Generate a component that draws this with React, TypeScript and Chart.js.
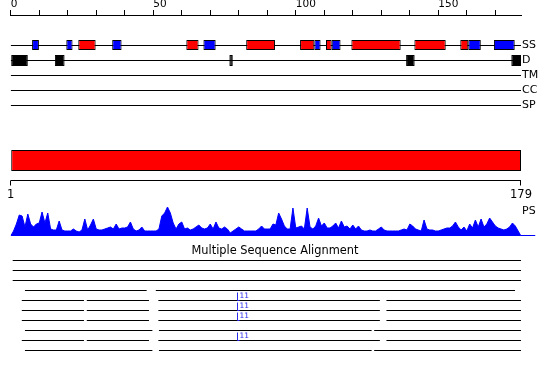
import React, { useEffect, useRef } from 'react';
import { Chart, registerables } from 'chart.js';

Chart.register(...registerables);

// ---------- data ----------
const SEQ_END = 179;
const AXIS_TICKS = [0, 10, 20, 30, 40, 50, 60, 70, 80, 90, 100, 110, 120, 130, 140, 150, 160, 170];
const TRACK_NAMES = ['SS', 'D', 'TM', 'CC', 'SP', 'PS'];

const SS_HELIX: [number, number][] = [
  [23.7, 29.8], [61.6, 65.9], [82.6, 92.7], [101.5, 106.5], [110.6, 112.6],
  [119.5, 136.8], [141.6, 152.6], [157.7, 160.5],
];
const SS_STRAND: [number, number][] = [
  [7.5, 9.9], [19.5, 21.7], [35.6, 38.9], [67.6, 71.9], [106.5, 108.7],
  [112.6, 115.7], [160.5, 164.9], [169.5, 176.8],
];
const DISORDER: [number, number][] = [
  [0, 6.0], [15.5, 18.9], [76.7, 77.9], [138.7, 141.7], [175.6, 179],
];
const DOMAINS: [number, number][] = [[0, 179]];

const RULER_TICK_POS = [0, 179];
const RULER_TICK_LABELS = ['1', '179'];

// PS profile, one value per residue position (0..179)
const PS = [
  0, 5, 12, 21, 20, 9, 22, 12, 9, 12,
  13, 24, 13, 23, 7, 6, 6, 15, 6, 5,
  5, 5, 7, 5, 4, 6, 17, 6, 11, 17,
  7, 6, 6, 7, 8, 9, 7, 12, 7, 8,
  8, 9, 14, 7, 5, 6, 9, 5, 5, 5,
  5, 5, 7, 20, 23, 29, 23, 13, 7, 12,
  14, 7, 8, 6, 7, 9, 11, 8, 7, 8,
  12, 7, 14, 8, 7, 9, 7, 3, 5, 7,
  9, 7, 5, 5, 5, 5, 5, 7, 10, 7,
  7, 7, 12, 11, 23, 17, 10, 7, 7, 28,
  8, 9, 10, 7, 28, 9, 7, 10, 18, 10,
  13, 8, 8, 10, 13, 8, 15, 9, 10, 7,
  11, 7, 10, 6, 5, 5, 6, 5, 5, 7,
  9, 6, 5, 5, 5, 5, 5, 6, 7, 6,
  12, 10, 7, 6, 5, 16, 7, 6, 6, 5,
  5, 6, 7, 8, 8, 10, 14, 9, 6, 9,
  5, 12, 8, 16, 9, 17, 9, 12, 18, 14,
  10, 8, 7, 6, 7, 9, 13, 10, 5, 0,
];
const PS_TAIL: [number, number] = [179, 184];

const MSA_TITLE = 'Multiple Sequence Alignment';
const ALIGN_ROWS: [number, number][][] = [
  [[0.7, 179]],
  [[0.7, 179]],
  [[0.7, 179]],
  [[5, 47.7], [50.9, 176.9]],
  [[3.9, 25.7], [26.7, 48.5], [51.8, 129.5], [131.8, 179]],
  [[3.9, 25.7], [26.7, 48.5], [51.8, 129.5], [131.8, 179]],
  [[3.9, 25.7], [26.7, 48.5], [51.8, 129.5], [131.8, 179]],
  [[5, 49.7], [52, 126.6], [127.5, 179]],
  [[3.9, 25.7], [26.7, 48.5], [51.8, 129.5], [131.8, 179]],
  [[5, 49.7], [52, 126.6], [127.5, 179]],
];
const INSERT_ROWS = [4, 5, 6, 8];
const INSERT_POS = [79.5, 79.5, 79.5, 79.5];
const INSERT_LABELS = ['11', '11', '11', '11'];

// ---------- layout (vertical positions, in pixel-like units of the y scale) ----------
const Y_TOP = 15;
const Y_BOTTOM = 365;
const TRACK_Y = [45.5, 60.5, 75.5, 90.5, 105.5, 211];
const SS_BAR_Y = 45;
const D_BAR_Y = 60.5;
const DOMAIN_Y = 160.5;
const RULER_Y = 180.5;
const PS_BASE = 236;
const TITLE_Y = 251;
const ALIGN_Y0 = 260.5;
const ALIGN_STEP = 10;
const FONT = 'DejaVu Sans';

function segLine(segs: [number, number][], y: number) {
  const out: any[] = [];
  segs.forEach(([a, b]) => {
    out.push({ x: a, y }, { x: b, y }, { x: b, y: null });
  });
  return out;
}

const extras = {
  id: 'extras',
  afterDatasetsDraw(chart: any) {
    const { ctx } = chart;
    const xs = chart.scales.x;
    const ys = chart.scales.y;
    ctx.save();
    // ruler
    const ry = ys.getPixelForValue(RULER_Y);
    const rx0 = xs.getPixelForValue(RULER_TICK_POS[0]);
    const rx1 = xs.getPixelForValue(RULER_TICK_POS[RULER_TICK_POS.length - 1]);
    ctx.strokeStyle = '#000';
    ctx.lineWidth = 1;
    ctx.beginPath();
    ctx.moveTo(rx0, ry);
    ctx.lineTo(rx1, ry);
    RULER_TICK_POS.forEach((p) => {
      const px = Math.round(xs.getPixelForValue(p)) - 0.5;
      ctx.moveTo(px, ry);
      ctx.lineTo(px, ry + 5);
    });
    ctx.stroke();
    ctx.fillStyle = '#000';
    ctx.font = `11.5px "${FONT}"`;
    ctx.textAlign = 'center';
    ctx.textBaseline = 'top';
    RULER_TICK_POS.forEach((p, i) => {
      ctx.fillText(RULER_TICK_LABELS[i], xs.getPixelForValue(p), ry + 8.5);
    });
    // title
    ctx.font = `11.4px "${FONT}"`;
    ctx.textBaseline = 'middle';
    ctx.fillText(MSA_TITLE, chart.width / 2, ys.getPixelForValue(TITLE_Y));
    // inserts
    ctx.strokeStyle = '#2a2aee';
    ctx.fillStyle = '#2a2aee';
    ctx.font = `7.5px "${FONT}"`;
    ctx.textAlign = 'left';
    ctx.textBaseline = 'alphabetic';
    INSERT_ROWS.forEach((r, i) => {
      const y = ys.getPixelForValue(ALIGN_Y0 + r * ALIGN_STEP);
      const x = Math.round(xs.getPixelForValue(INSERT_POS[i])) + 0.5;
      ctx.beginPath();
      ctx.moveTo(x, y - 8);
      ctx.lineTo(x, y);
      ctx.lineTo(x + 2, y);
      ctx.stroke();
      ctx.fillText(INSERT_LABELS[i], x + 2, y - 2.5);
    });
    ctx.restore();
  },
};

export default function App() {
  const ref = useRef<HTMLCanvasElement>(null);
  useEffect(() => {
    const canvas = ref.current!;
    const trackLines: any[] = [];
    TRACK_Y.slice(0, 5).forEach((y) => {
      trackLines.push(...segLine([[0, SEQ_END]], y));
    });
    const alignLines: any[] = [];
    ALIGN_ROWS.forEach((segs, r) => {
      alignLines.push(...segLine(segs, ALIGN_Y0 + r * ALIGN_STEP));
    });
    const barBase = {
      type: 'bar' as const,
      indexAxis: 'y' as const,
      grouped: false,
      borderWidth: 1,
      borderColor: '#000',
      borderSkipped: false,
      inflateAmount: 0,
      order: 0,
    };
    const chart = new Chart(canvas, {
      type: 'line',
      data: {
        datasets: [
          { ...barBase, data: SS_HELIX.map((s) => ({ x: s, y: SS_BAR_Y })), backgroundColor: '#ff0000', barThickness: 10 } as any,
          { ...barBase, data: SS_STRAND.map((s) => ({ x: s, y: SS_BAR_Y })), backgroundColor: '#0000ff', barThickness: 10 } as any,
          { ...barBase, data: DISORDER.map((s) => ({ x: s, y: D_BAR_Y })), backgroundColor: '#000000', barThickness: 11 } as any,
          { ...barBase, data: DOMAINS.map((s) => ({ x: s, y: DOMAIN_Y })), backgroundColor: '#ff0000', barThickness: 21 } as any,
          {
            type: 'line', data: trackLines, borderColor: '#000', borderWidth: 1,
            pointRadius: 0, spanGaps: false, fill: false, order: 2,
          },
          {
            type: 'line', data: alignLines, borderColor: '#000', borderWidth: 1,
            pointRadius: 0, spanGaps: false, fill: false, order: 2,
          },
          {
            type: 'line', data: PS.map((v, i) => ({ x: i, y: PS_BASE - v })),
            borderColor: '#0000ff', backgroundColor: '#0000ff', borderWidth: 1,
            pointRadius: 0, fill: { value: PS_BASE }, order: 1, tension: 0,
          },
          {
            type: 'line', data: PS_TAIL.map((x) => ({ x, y: PS_BASE - 0.5 })),
            borderColor: '#0000ff', borderWidth: 1, pointRadius: 0, fill: false,
            order: 1, clip: false,
          },
        ],
      },
      options: {
        animation: false,
        responsive: false,
        devicePixelRatio: 1,
        events: [],
        layout: { padding: { left: 10.7, right: 0, top: 0, bottom: 380 - Y_BOTTOM } },
        plugins: { legend: { display: false }, tooltip: { enabled: false } },
        scales: {
          x: {
            type: 'linear',
            position: 'top',
            min: 0,
            max: SEQ_END,
            offset: false,
            afterBuildTicks: (s: any) => { s.ticks = AXIS_TICKS.map((v) => ({ value: v })); },
            afterFit: (s: any) => { s.height = Y_TOP; },
            ticks: {
              autoSkip: false,
              maxRotation: 0,
              align: 'start',
              padding: -1,
              color: '#000',
              font: { family: FONT, size: 10.5 },
              callback: (v: any) => (Number(v) % 50 === 0 ? String(v) : ''),
            },
            grid: { display: true, offset: false, drawOnChartArea: false, drawTicks: true, tickLength: 5, color: '#000' },
            border: { display: true, color: '#000', width: 1 },
          },
          y: {
            type: 'linear',
            position: 'right',
            reverse: true,
            offset: false,
            min: Y_TOP,
            max: Y_BOTTOM,
            afterBuildTicks: (s: any) => { s.ticks = TRACK_Y.map((v) => ({ value: v })); },
            afterFit: (s: any) => { s.width = 29; },
            ticks: {
              autoSkip: false,
              padding: 1,
              color: '#000',
              font: { family: FONT, size: 11 },
              callback: (_v: any, i: number) => TRACK_NAMES[i],
            },
            grid: { display: false, offset: false, drawTicks: false },
            border: { display: false },
          },
        },
      } as any,
      plugins: [extras],
    });
    return () => chart.destroy();
  }, []);
  return (
    <div style={{ position: 'absolute', left: 0, top: 0, width: 550, height: 380, background: '#fff' }}>
      <canvas ref={ref} width={550} height={380} style={{ display: 'block' }} />
    </div>
  );
}
